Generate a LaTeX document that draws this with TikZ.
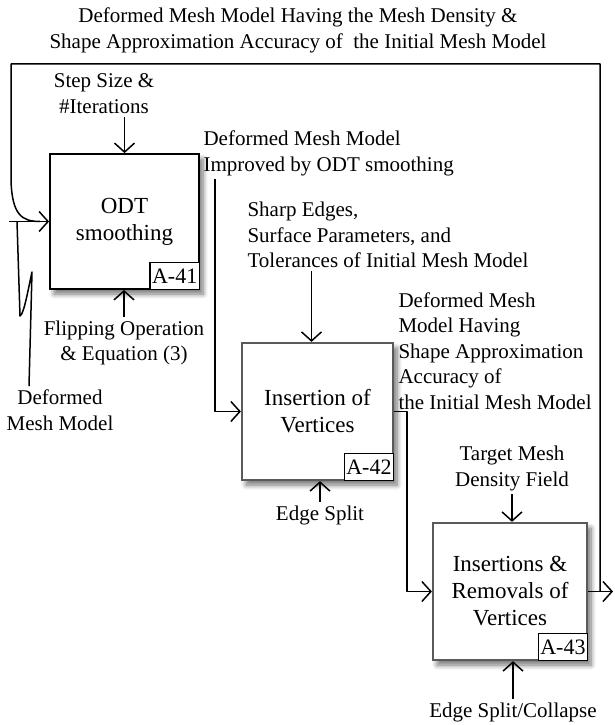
\documentclass[tikz,border=0pt]{standalone}
\usepackage{fontspec}
\setmainfont{Liberation Serif}
\usetikzlibrary{arrows.meta, calc, positioning, shadows.blur}
\definecolor{boxgrey}{HTML}{5A5A5A}

\begin{document}
\begin{tikzpicture}[x=1pt,y=-1pt,font=\fontsize{21}{25.5}\selectfont,
    actbox/.style={draw,line width=1.8pt,fill=white,align=center,minimum width=149pt,minimum height=135pt,
      font=\fontsize{23}{27}\selectfont,blur shadow={shadow xshift=4pt,shadow yshift=-5pt,shadow blur radius=5pt,shadow blur steps=8,shadow opacity=55}},
    tagbox/.style={draw,line width=1.2pt,fill=white,inner xsep=2pt,inner ysep=1pt,minimum height=27pt,font=\fontsize{22}{24}\selectfont,anchor=south east},
    plain/.style={line width=1.5pt,line join=round},
    flow/.style={plain,-{Straight Barb[length=9pt,width=20pt,line width=1.5pt]}}]
    \useasboundingbox (0,0) rectangle (614,725);
    \node (odt) [actbox] at (124.5,221.5) {ODT\\smoothing};
    \node (ins) [actbox,draw=boxgrey,line width=2.2pt,minimum width=151pt,minimum height=137pt] at (317.5,411.5) {Insertion of\\Vertices};
    \node (rem) [actbox,draw=boxgrey,line width=2.2pt,minimum width=154pt,minimum height=137pt] at (510,591.5) {Insertions \&\\Removals of\\Vertices};
    \node (t41) [tagbox] at (odt.south east) {A-41};
    \node (t42) [tagbox] at (ins.south east) {A-42};
    \node (t43) [tagbox] at (rem.south east) {A-43};
    \node (title) [align=center] at (298,30.5) {Deformed Mesh Model Having the Mesh Density \&\\Shape Approximation Accuracy of \ the Initial Mesh Model};
    \node (step) [align=center] at (104,93.5) {Step Size \&\\\#Iterations};
    \node (flip) [align=center] at (124,343) {Flipping Operation\\\& Equation (3)};
    \node (dmm) [align=center] at (60,410) {Deformed\\Mesh Model};
    \node (impr) [align=left,anchor=west] at (200,153.5) {Deformed Mesh Model\\Improved by ODT smoothing};
    \node (sharp) [align=left,anchor=west] at (244,235) {Sharp Edges,\\Surface Parameters, and\\Tolerances of Initial Mesh Model};
    \node (shape) [align=left,anchor=west] at (395,351) {Deformed Mesh\\Model Having\\Shape Approximation\\Accuracy of\\the Initial Mesh Model};
    \node (split) at (320,515) {Edge Split};
    \node (target) [align=center] at (512,468.5) {Target Mesh\\Density Field};
    \node (coll) at (513,712) {Edge Split/Collapse};
    \coordinate (odtout) at (215,179);
    \coordinate (fbr) at (600,64);
    \coordinate (fbl) at (11,64);
    \coordinate (inl) at (9,221.5);
    \coordinate (out) at (613,591.5);
    \draw[flow] (odt.north |- step.south) -- (odt.north);
    \draw[flow] (flip.north) -- (flip.north |- odt.south);
    \draw[flow] (odtout) |- (ins.west);
    \draw[flow] ([xshift=-6pt]ins.north |- sharp.south) -- ([xshift=-6pt]ins.north);
    \draw[flow] (split.north) -- (split.north |- ins.south);
    \draw[flow] (ins.east) -- ++(13,0) |- (rem.west);
    \draw[flow] ([xshift=2pt]rem.north |- target.south) -- ([xshift=2pt]rem.north);
    \draw[flow] (coll.north) -- (coll.north |- rem.south);
    \draw[flow] (rem.east) -- (out);
    \draw[plain] (rem.east -| fbr) -- (fbr) -- (fbl) -- (11,180) .. controls (12,215) and (22,221.5) .. (40,221.5);
    \draw[flow] (inl) -- (odt.west);
    \draw[plain] ([xshift=-31pt]dmm.north) -- (32,272) .. controls (28,290) and (24,314) .. (20,316) -- (17,221.5);
  \end{tikzpicture}
\end{document}
